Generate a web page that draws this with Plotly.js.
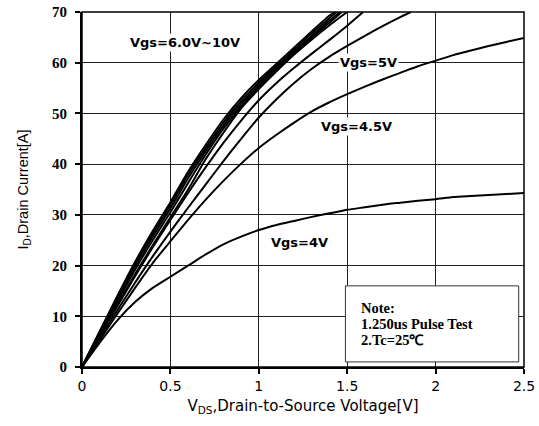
<!DOCTYPE html>
<html>
<head>
<meta charset="utf-8">
<script src="https://cdn.plot.ly/plotly-3.0.1.min.js"></script>
<style>html,body{margin:0;padding:0;background:#fff;}#chart{width:539px;height:426px;}</style>
</head>
<body>
<div id="chart"></div>
<script>
// V_DS values for the curves
const xBase = [0,0.1,0.2,0.3,0.4,0.5,0.6,0.7,0.8,0.9,1.0,1.1,1.2,1.3,1.4];
const x10 = xBase.concat([1.43]);
const y10 = [0,7.0,14.0,20.7,26.8,32.5,38.5,43.8,48.8,53.0,56.6,59.8,63.0,66.2,69.3,70];
const x9 = xBase.concat([1.44]);
const y9 = [0,6.9,13.7,20.3,26.3,32.0,37.9,43.2,48.2,52.4,56.1,59.4,62.6,65.8,68.8,70];
const x8 = xBase.concat([1.46]);
const y8 = [0,6.7,13.3,19.8,25.7,31.3,37.2,42.6,47.6,51.9,55.6,59.0,62.2,65.3,68.3,70];
const x7 = xBase.concat([1.47]);
const y7 = [0,6.5,12.9,19.2,25.0,30.5,36.3,41.9,47.0,51.4,55.2,58.6,61.9,65.0,67.9,70];
const x6 = xBase.concat([1.5]);
const y6 = [0,6.2,12.3,18.3,24.0,29.5,35.0,41.0,46.2,51.0,54.8,58.3,61.6,64.6,67.4,70];
const x55 = xBase.concat([1.5,1.59]);
const y55 = [0,6.0,12.0,17.9,23.6,29.0,34.3,39.4,44.2,48.6,52.6,56.0,59.0,61.8,64.5,67.3,70];
const x5 = xBase.concat([1.5,1.6,1.7,1.8,1.86]);
const y5 = [0,5.6,11.2,16.6,21.8,26.7,31.4,36.0,40.6,45.0,49.2,52.8,56.0,58.8,61.2,63.3,65.3,67.2,69.0,70];
const xLong = [0,0.1,0.2,0.3,0.4,0.5,0.6,0.7,0.8,0.9,1.0,1.1,1.2,1.3,1.4,1.5,1.6,1.7,1.8,1.9,2.0,2.1,2.2,2.3,2.4,2.5];
const y45 = [0,5.3,10.5,15.6,20.5,24.8,29.0,33.0,36.7,40.1,43.2,45.8,48.2,50.4,52.2,53.8,55.3,56.7,58.0,59.3,60.4,61.5,62.4,63.3,64.1,64.9];
const y4 = [0,4.8,9.2,12.8,15.6,17.8,20.0,22.2,24.2,25.7,27.0,28.0,28.8,29.6,30.3,31.0,31.5,32.0,32.4,32.8,33.1,33.5,33.7,33.9,34.1,34.3];

const xTicks = [0,0.5,1,1.5,2,2.5];
const xTickLabels = ['0','0.5','1','1.5','2','2.5'];
const yTicks = [0,10,20,30,40,50,60,70];

const labels = [
  {text:'Vgs=6.0V~10V', x:0.58, y:63.9},
  {text:'Vgs=5V', x:1.62, y:60.1},
  {text:'Vgs=4.5V', x:1.55, y:47.5},
  {text:'Vgs=4V', x:1.233, y:24.5}
];
const noteLines = ['Note:', '1.250us Pulse Test', '2.Tc=25\u2103'];
const noteY = [11.6, 8.5, 5.4];

const series = [[x10,y10],[x9,y9],[x8,y8],[x7,y7],[x6,y6],[x55,y55],[x5,y5],[xLong,y45],[xLong,y4]];
const traces = series.map(s => ({
  x: s[0], y: s[1], type:'scatter', mode:'lines',
  line:{color:'#000', width:2, shape:'spline', smoothing:0.6},
  hoverinfo:'skip', showlegend:false
}));

const annotations = labels.map(l => ({
  x:l.x, y:l.y, xref:'x', yref:'y', text:'<b>'+l.text+'</b>', showarrow:false,
  font:{family:'DejaVu Sans, Verdana, sans-serif', size:13, color:'#000'},
  bgcolor:'#fff', borderpad:1
}));
noteLines.forEach((t, i) => annotations.push({
  x:1.567, y:noteY[i], xref:'x', yref:'y', xanchor:'left', yanchor:'middle', align:'left',
  text:'<b>'+t+'</b>', showarrow:false,
  font:{family:'Liberation Serif, Times New Roman, serif', size:14.5, color:'#000'}
}));

const layout = {
  width:539, height:426,
  margin:{l:82, r:15, t:12, b:59},
  paper_bgcolor:'#fff', plot_bgcolor:'#fff',
  showlegend:false,
  xaxis:{
    range:[0,2.5], tickvals:xTicks, ticktext:xTickLabels,
    showgrid:true, gridcolor:'#222', gridwidth:1,
    zeroline:false, showline:true, linecolor:'#000', linewidth:2, mirror:false,
    ticks:'outside', ticklen:5, tickcolor:'#000', tickwidth:2,
    tickfont:{family:'DejaVu Sans, Verdana, sans-serif', size:14, color:'#000'},
    title:{text:'V<sub>DS</sub>,Drain-to-Source Voltage[V]', standoff:8,
      font:{family:'DejaVu Sans, Verdana, sans-serif', size:15, color:'#000'}}
  },
  yaxis:{
    range:[0,70], tickvals:yTicks,
    showgrid:true, gridcolor:'#222', gridwidth:1,
    zeroline:false, showline:true, linecolor:'#000', linewidth:2,
    ticks:'outside', ticklen:5, tickcolor:'#000', tickwidth:2, ticklabelstandoff:5,
    tickfont:{family:'Liberation Serif, Times New Roman, serif', size:15, color:'#000', weight:'bold'},
    title:{text:'I<sub>D</sub>,Drain Current[A]', standoff:20,
      font:{family:'Liberation Sans Narrow, Arial Narrow, Liberation Sans, sans-serif', size:14.5, color:'#000'}}
  },
  shapes:[
    {type:'rect', xref:'paper', yref:'paper', x0:0, x1:1, y0:0, y1:1, line:{color:'#000', width:1.5}},
    {type:'rect', xref:'x', yref:'y', x0:1.49, x1:2.47, y0:1, y1:16, fillcolor:'#fff', line:{color:'#333', width:1}, layer:'above'}
  ],
  annotations:annotations
};

Plotly.newPlot('chart', traces, layout, {displayModeBar:false, staticPlot:true});
</script>
</body>
</html>
